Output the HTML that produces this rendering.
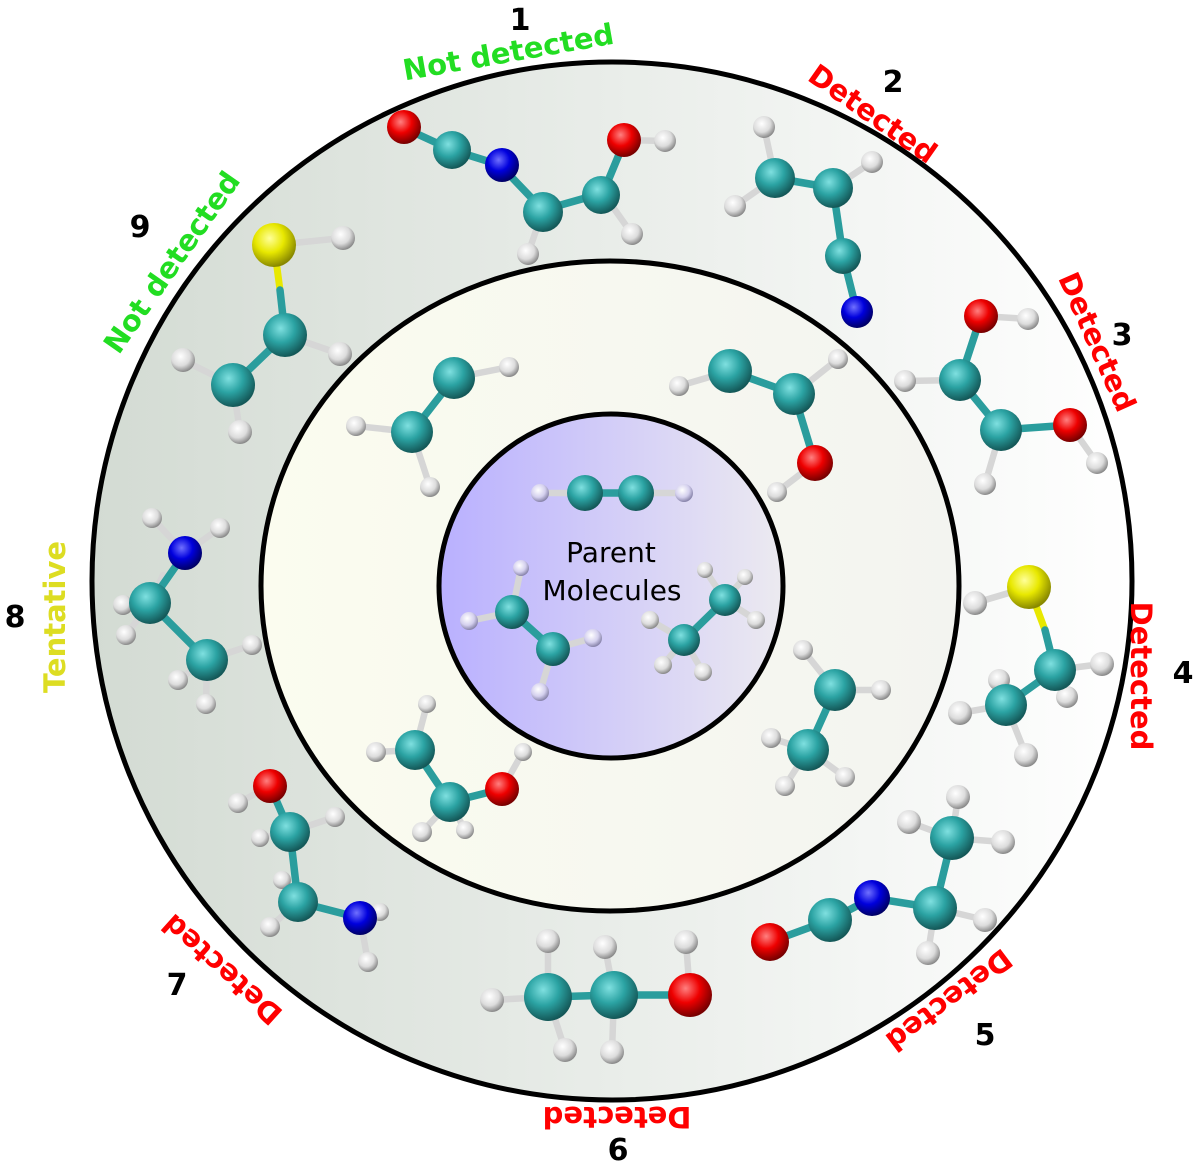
<!DOCTYPE html>
<html><head><meta charset="utf-8"><style>
html,body{margin:0;padding:0;background:#fff}
svg{display:block}
.lb{font-family:"DejaVu Sans","Liberation Sans",sans-serif;font-weight:bold;font-size:29px}
.num{font-family:"DejaVu Sans","Liberation Sans",sans-serif;font-weight:bold;font-size:30px;fill:#000}
.b{stroke:#2a9d9d;stroke-width:7.5;stroke-linecap:round}
.bh{stroke:#d6d6d6;stroke-width:6.5;stroke-linecap:round}
</style></head><body>
<svg width="1200" height="1166" viewBox="0 0 1200 1166" xmlns="http://www.w3.org/2000/svg">
<defs>
<linearGradient id="go" x1="0" x2="1"><stop offset="0" stop-color="#d3dbd3"/><stop offset="1" stop-color="#ffffff"/></linearGradient>
<linearGradient id="gm" x1="0" x2="1"><stop offset="0" stop-color="#fbfcef"/><stop offset="1" stop-color="#f3f4f0"/></linearGradient>
<linearGradient id="gi" x1="0" x2="1"><stop offset="0" stop-color="#b9b0ff"/><stop offset="1" stop-color="#eceaf0"/></linearGradient>
<radialGradient id="C" cx="0.4" cy="0.35" r="0.65"><stop offset="0" stop-color="#7fe0e0"/><stop offset="0.5" stop-color="#2ba3a3"/><stop offset="1" stop-color="#145858"/></radialGradient>
<radialGradient id="H" cx="0.4" cy="0.35" r="0.65"><stop offset="0" stop-color="#ffffff"/><stop offset="0.6" stop-color="#dcdcdc"/><stop offset="1" stop-color="#8a8a8a"/></radialGradient>
<radialGradient id="HL" cx="0.4" cy="0.35" r="0.65"><stop offset="0" stop-color="#ffffff"/><stop offset="0.6" stop-color="#d4d0ee"/><stop offset="1" stop-color="#8884aa"/></radialGradient>
<radialGradient id="O" cx="0.4" cy="0.35" r="0.65"><stop offset="0" stop-color="#ff8080"/><stop offset="0.5" stop-color="#ee0000"/><stop offset="1" stop-color="#770000"/></radialGradient>
<radialGradient id="N" cx="0.4" cy="0.35" r="0.65"><stop offset="0" stop-color="#7070ff"/><stop offset="0.5" stop-color="#0000dd"/><stop offset="1" stop-color="#000066"/></radialGradient>
<radialGradient id="S" cx="0.4" cy="0.35" r="0.65"><stop offset="0" stop-color="#ffff99"/><stop offset="0.5" stop-color="#e8e800"/><stop offset="1" stop-color="#888800"/></radialGradient>
</defs>
<ellipse cx="612" cy="581" rx="520" ry="519" fill="url(#go)" stroke="#000" stroke-width="5"/>
<ellipse cx="610" cy="586" rx="349" ry="325" fill="url(#gm)" stroke="#000" stroke-width="5"/>
<ellipse cx="611" cy="586" rx="172" ry="172" fill="url(#gi)" stroke="#000" stroke-width="5"/>

<text x="611" y="562" text-anchor="middle" font-family="DejaVu Sans, Liberation Sans, sans-serif" font-size="28" fill="#000">Parent</text>
<text x="612" y="600" text-anchor="middle" font-family="DejaVu Sans, Liberation Sans, sans-serif" font-size="28" fill="#000">Molecules</text>

<g>
<line class="bh" x1="540" y1="493" x2="684" y2="493"/>
<line class="b" x1="585" y1="493" x2="636" y2="493"/>
<circle cx="540" cy="493" r="9" fill="url(#HL)"/><circle cx="684" cy="493" r="9" fill="url(#HL)"/>
<circle cx="585" cy="493" r="18" fill="url(#C)"/><circle cx="636" cy="493" r="18" fill="url(#C)"/>
</g>
<g>
<line class="bh" x1="512" y1="612" x2="521" y2="568"/><line class="bh" x1="512" y1="612" x2="469" y2="621"/>
<line class="bh" x1="553" y1="649" x2="593" y2="638"/><line class="bh" x1="553" y1="649" x2="540" y2="692"/>
<line class="b" x1="512" y1="612" x2="553" y2="649"/>
<circle cx="521" cy="568" r="8" fill="url(#HL)"/><circle cx="469" cy="621" r="9" fill="url(#HL)"/><circle cx="593" cy="638" r="9" fill="url(#HL)"/><circle cx="540" cy="692" r="9" fill="url(#HL)"/>
<circle cx="512" cy="612" r="17" fill="url(#C)"/><circle cx="553" cy="649" r="17" fill="url(#C)"/>
</g>
<g>
<line class="bh" x1="725" y1="600" x2="705" y2="570"/><line class="bh" x1="725" y1="600" x2="745" y2="577"/><line class="bh" x1="725" y1="600" x2="756" y2="620"/>
<line class="bh" x1="684" y1="640" x2="650" y2="620"/><line class="bh" x1="684" y1="640" x2="663" y2="665"/><line class="bh" x1="684" y1="640" x2="703" y2="672"/>
<line class="b" x1="725" y1="600" x2="684" y2="640"/>
<circle cx="705" cy="570" r="8" fill="url(#H)"/><circle cx="745" cy="577" r="8" fill="url(#H)"/><circle cx="756" cy="620" r="9" fill="url(#H)"/>
<circle cx="650" cy="620" r="9" fill="url(#H)"/><circle cx="663" cy="665" r="9" fill="url(#H)"/><circle cx="703" cy="672" r="9" fill="url(#H)"/>
<circle cx="725" cy="600" r="16" fill="url(#C)"/><circle cx="684" cy="640" r="16" fill="url(#C)"/>
</g>

<g>
<line class="bh" x1="454" y1="378" x2="509" y2="367"/><line class="bh" x1="412" y1="432" x2="356" y2="426"/><line class="bh" x1="412" y1="432" x2="430" y2="487"/>
<line class="b" x1="454" y1="378" x2="412" y2="432"/>
<circle cx="509" cy="367" r="10" fill="url(#H)"/><circle cx="356" cy="426" r="10" fill="url(#H)"/><circle cx="430" cy="487" r="10" fill="url(#H)"/>
<circle cx="454" cy="378" r="21" fill="url(#C)"/><circle cx="412" cy="432" r="21" fill="url(#C)"/>
</g>
<g>
<line class="bh" x1="730" y1="371" x2="679" y2="386"/><line class="bh" x1="794" y1="394" x2="838" y2="359"/><line class="bh" x1="815" y1="463" x2="777" y2="492"/>
<line class="b" x1="730" y1="371" x2="794" y2="394"/><line class="b" x1="794" y1="394" x2="815" y2="463"/>
<circle cx="679" cy="386" r="10" fill="url(#H)"/><circle cx="838" cy="359" r="10" fill="url(#H)"/><circle cx="777" cy="492" r="10" fill="url(#H)"/>
<circle cx="730" cy="371" r="22" fill="url(#C)"/><circle cx="794" cy="394" r="21" fill="url(#C)"/><circle cx="815" cy="463" r="18" fill="url(#O)"/>
</g>
<g>
<line class="bh" x1="835" y1="690" x2="803" y2="650"/><line class="bh" x1="835" y1="690" x2="881" y2="690"/>
<line class="bh" x1="808" y1="750" x2="771" y2="738"/><line class="bh" x1="808" y1="750" x2="785" y2="786"/><line class="bh" x1="808" y1="750" x2="845" y2="777"/>
<line class="b" x1="835" y1="690" x2="808" y2="750"/>
<circle cx="803" cy="650" r="10" fill="url(#H)"/><circle cx="881" cy="690" r="10" fill="url(#H)"/><circle cx="771" cy="738" r="10" fill="url(#H)"/><circle cx="785" cy="786" r="10" fill="url(#H)"/><circle cx="845" cy="777" r="10" fill="url(#H)"/>
<circle cx="835" cy="690" r="21" fill="url(#C)"/><circle cx="808" cy="750" r="21" fill="url(#C)"/>
</g>
<g>
<line class="bh" x1="415" y1="750" x2="427" y2="704"/><line class="bh" x1="415" y1="750" x2="376" y2="752"/>
<line class="bh" x1="450" y1="802" x2="422" y2="832"/><line class="bh" x1="450" y1="802" x2="465" y2="830"/><line class="bh" x1="502" y1="789" x2="523" y2="752"/>
<line class="b" x1="415" y1="750" x2="450" y2="802"/><line class="b" x1="450" y1="802" x2="502" y2="789"/>
<circle cx="427" cy="704" r="9" fill="url(#H)"/><circle cx="376" cy="752" r="10" fill="url(#H)"/><circle cx="422" cy="832" r="10" fill="url(#H)"/><circle cx="465" cy="830" r="9" fill="url(#H)"/><circle cx="523" cy="752" r="9" fill="url(#H)"/>
<circle cx="415" cy="750" r="20" fill="url(#C)"/><circle cx="450" cy="802" r="20" fill="url(#C)"/><circle cx="502" cy="789" r="17" fill="url(#O)"/>
</g>

<g>
<line class="b" x1="402" y1="127" x2="452" y2="150"/><line class="b" x1="452" y1="150" x2="500" y2="165"/><line class="b" x1="500" y1="165" x2="543" y2="210"/>
<line class="b" x1="543" y1="210" x2="603" y2="193"/><line class="b" x1="603" y1="193" x2="625" y2="140"/>
<line class="bh" x1="625" y1="140" x2="665" y2="141"/><line class="bh" x1="543" y1="210" x2="528" y2="254"/><line class="bh" x1="603" y1="193" x2="632" y2="234"/>
<circle cx="665" cy="141" r="11" fill="url(#H)"/><circle cx="528" cy="254" r="11" fill="url(#H)"/><circle cx="632" cy="234" r="11" fill="url(#H)"/>
<circle cx="404" cy="127" r="17" fill="url(#O)"/><circle cx="452" cy="150" r="19" fill="url(#C)"/><circle cx="502" cy="165" r="17" fill="url(#N)"/>
<circle cx="543" cy="212" r="20" fill="url(#C)"/><circle cx="601" cy="195" r="19" fill="url(#C)"/><circle cx="624" cy="140" r="17" fill="url(#O)"/>
</g>
<g>
<line class="bh" x1="775" y1="178" x2="764" y2="127"/><line class="bh" x1="775" y1="178" x2="735" y2="206"/><line class="bh" x1="833" y1="188" x2="872" y2="162"/>
<line class="b" x1="775" y1="178" x2="833" y2="188"/><line class="b" x1="833" y1="188" x2="843" y2="256"/><line class="b" x1="843" y1="256" x2="857" y2="312"/>
<circle cx="764" cy="127" r="11" fill="url(#H)"/><circle cx="735" cy="206" r="11" fill="url(#H)"/><circle cx="872" cy="162" r="11" fill="url(#H)"/>
<circle cx="775" cy="178" r="20" fill="url(#C)"/><circle cx="833" cy="188" r="20" fill="url(#C)"/><circle cx="843" cy="256" r="18" fill="url(#C)"/><circle cx="857" cy="312" r="16" fill="url(#N)"/>
</g>
<g>
<line class="bh" x1="981" y1="316" x2="1028" y2="319"/><line class="bh" x1="960" y1="380" x2="905" y2="381"/><line class="bh" x1="1001" y1="430" x2="985" y2="484"/><line class="bh" x1="1070" y1="425" x2="1097" y2="463"/>
<line class="b" x1="981" y1="316" x2="960" y2="380"/><line class="b" x1="960" y1="380" x2="1001" y2="430"/><line class="b" x1="1001" y1="430" x2="1070" y2="425"/>
<circle cx="1028" cy="319" r="11" fill="url(#H)"/><circle cx="905" cy="381" r="11" fill="url(#H)"/><circle cx="985" cy="484" r="11" fill="url(#H)"/><circle cx="1097" cy="463" r="11" fill="url(#H)"/>
<circle cx="981" cy="316" r="17" fill="url(#O)"/><circle cx="960" cy="380" r="21" fill="url(#C)"/><circle cx="1001" cy="430" r="21" fill="url(#C)"/><circle cx="1070" cy="425" r="17" fill="url(#O)"/>
</g>
<g>
<line class="bh" x1="1029" y1="587" x2="975" y2="603"/><line class="bh" x1="1055" y1="670" x2="1102" y2="664"/><line class="bh" x1="1055" y1="670" x2="1067" y2="697"/>
<line class="bh" x1="1006" y1="705" x2="960" y2="713"/><line class="bh" x1="1006" y1="705" x2="1026" y2="755"/><line class="bh" x1="1006" y1="705" x2="999" y2="680"/>
<line x1="1029" y1="587" x2="1045" y2="630" stroke="#e8e800" stroke-width="7"/><line class="b" x1="1045" y1="630" x2="1055" y2="670"/><line class="b" x1="1055" y1="670" x2="1006" y2="705"/>
<circle cx="975" cy="603" r="12" fill="url(#H)"/><circle cx="999" cy="680" r="11" fill="url(#H)"/><circle cx="1067" cy="697" r="11" fill="url(#H)"/>
<circle cx="1102" cy="664" r="12" fill="url(#H)"/><circle cx="960" cy="713" r="12" fill="url(#H)"/><circle cx="1026" cy="755" r="12" fill="url(#H)"/>
<circle cx="1029" cy="587" r="22" fill="url(#S)"/><circle cx="1055" cy="670" r="21" fill="url(#C)"/><circle cx="1006" cy="705" r="21" fill="url(#C)"/>
</g>
<g>
<line class="bh" x1="952" y1="838" x2="958" y2="797"/><line class="bh" x1="952" y1="838" x2="909" y2="822"/><line class="bh" x1="952" y1="838" x2="1003" y2="842"/>
<line class="bh" x1="935" y1="908" x2="985" y2="920"/><line class="bh" x1="935" y1="908" x2="928" y2="953"/>
<line class="b" x1="770" y1="942" x2="830" y2="920"/><line class="b" x1="830" y1="920" x2="872" y2="898"/><line class="b" x1="872" y1="898" x2="935" y2="908"/><line class="b" x1="935" y1="908" x2="952" y2="838"/>
<circle cx="958" cy="797" r="12" fill="url(#H)"/><circle cx="909" cy="822" r="12" fill="url(#H)"/><circle cx="1003" cy="842" r="12" fill="url(#H)"/><circle cx="985" cy="920" r="12" fill="url(#H)"/><circle cx="928" cy="953" r="12" fill="url(#H)"/>
<circle cx="770" cy="942" r="19" fill="url(#O)"/><circle cx="830" cy="920" r="22" fill="url(#C)"/><circle cx="872" cy="898" r="18" fill="url(#N)"/><circle cx="935" cy="908" r="22" fill="url(#C)"/><circle cx="952" cy="838" r="22" fill="url(#C)"/>
</g>
<g>
<line class="bh" x1="548" y1="997" x2="492" y2="1000"/><line class="bh" x1="548" y1="997" x2="548" y2="941"/><line class="bh" x1="548" y1="997" x2="565" y2="1050"/>
<line class="bh" x1="614" y1="995" x2="605" y2="947"/><line class="bh" x1="614" y1="995" x2="612" y2="1052"/><line class="bh" x1="690" y1="995" x2="686" y2="942"/>
<line class="b" x1="548" y1="997" x2="614" y2="995"/><line class="b" x1="614" y1="995" x2="690" y2="995"/>
<circle cx="492" cy="1000" r="12" fill="url(#H)"/><circle cx="548" cy="941" r="12" fill="url(#H)"/><circle cx="565" cy="1050" r="12" fill="url(#H)"/>
<circle cx="605" cy="947" r="12" fill="url(#H)"/><circle cx="612" cy="1052" r="12" fill="url(#H)"/><circle cx="686" cy="942" r="12" fill="url(#H)"/>
<circle cx="548" cy="997" r="24" fill="url(#C)"/><circle cx="614" cy="995" r="24" fill="url(#C)"/><circle cx="690" cy="995" r="22" fill="url(#O)"/>
</g>
<g>
<line class="bh" x1="270" y1="786" x2="238" y2="803"/><line class="bh" x1="290" y1="832" x2="335" y2="817"/><line class="bh" x1="290" y1="832" x2="260" y2="838"/>
<line class="bh" x1="298" y1="902" x2="270" y2="927"/><line class="bh" x1="298" y1="902" x2="282" y2="880"/><line class="bh" x1="360" y1="918" x2="368" y2="962"/><line class="bh" x1="360" y1="918" x2="380" y2="912"/>
<line class="b" x1="270" y1="786" x2="290" y2="832"/><line class="b" x1="290" y1="832" x2="298" y2="902"/><line class="b" x1="298" y1="902" x2="360" y2="918"/>
<circle cx="238" cy="803" r="10" fill="url(#H)"/><circle cx="335" cy="817" r="10" fill="url(#H)"/><circle cx="260" cy="838" r="9" fill="url(#H)"/><circle cx="270" cy="927" r="10" fill="url(#H)"/><circle cx="282" cy="880" r="9" fill="url(#H)"/><circle cx="368" cy="962" r="10" fill="url(#H)"/><circle cx="380" cy="912" r="9" fill="url(#H)"/>
<circle cx="270" cy="786" r="17" fill="url(#O)"/><circle cx="290" cy="832" r="20" fill="url(#C)"/><circle cx="298" cy="902" r="20" fill="url(#C)"/><circle cx="360" cy="918" r="17" fill="url(#N)"/>
</g>
<g>
<line class="bh" x1="185" y1="553" x2="152" y2="518"/><line class="bh" x1="185" y1="553" x2="220" y2="528"/>
<line class="bh" x1="150" y1="603" x2="123" y2="605"/><line class="bh" x1="150" y1="603" x2="126" y2="635"/><line class="bh" x1="150" y1="603" x2="163" y2="575"/>
<line class="bh" x1="207" y1="660" x2="252" y2="645"/><line class="bh" x1="207" y1="660" x2="206" y2="704"/><line class="bh" x1="207" y1="660" x2="178" y2="680"/>
<line class="b" x1="185" y1="553" x2="150" y2="603"/><line class="b" x1="150" y1="603" x2="207" y2="660"/>
<circle cx="152" cy="518" r="10" fill="url(#H)"/><circle cx="220" cy="528" r="10" fill="url(#H)"/><circle cx="123" cy="605" r="10" fill="url(#H)"/><circle cx="126" cy="635" r="10" fill="url(#H)"/><circle cx="178" cy="680" r="10" fill="url(#H)"/><circle cx="252" cy="645" r="10" fill="url(#H)"/><circle cx="206" cy="704" r="10" fill="url(#H)"/>
<circle cx="185" cy="553" r="17" fill="url(#N)"/><circle cx="150" cy="603" r="21" fill="url(#C)"/><circle cx="207" cy="660" r="21" fill="url(#C)"/>
</g>
<g>
<line class="bh" x1="274" y1="245" x2="343" y2="238"/><line class="bh" x1="285" y1="335" x2="340" y2="354"/><line class="bh" x1="233" y1="385" x2="183" y2="360"/><line class="bh" x1="233" y1="385" x2="240" y2="432"/>
<line x1="274" y1="245" x2="280" y2="290" stroke="#e8e800" stroke-width="7"/><line class="b" x1="280" y1="290" x2="285" y2="335"/><line class="b" x1="285" y1="335" x2="233" y2="385"/>
<circle cx="343" cy="238" r="12" fill="url(#H)"/><circle cx="340" cy="354" r="12" fill="url(#H)"/><circle cx="183" cy="360" r="12" fill="url(#H)"/><circle cx="240" cy="432" r="12" fill="url(#H)"/>
<circle cx="274" cy="245" r="22" fill="url(#S)"/><circle cx="285" cy="335" r="22" fill="url(#C)"/><circle cx="233" cy="385" r="22" fill="url(#C)"/>
</g>

<text class="num" x="520" y="30" text-anchor="middle">1</text>
<text class="lb" fill="#22dd22" text-anchor="middle" transform="translate(510,62) rotate(-10)">Not detected</text>
<text class="num" x="893" y="92" text-anchor="middle">2</text>
<text class="lb" fill="#ff0000" text-anchor="middle" transform="translate(867,122) rotate(35)">Detected</text>
<text class="num" x="1122" y="345" text-anchor="middle">3</text>
<text class="lb" fill="#ff0000" text-anchor="middle" transform="translate(1088,346) rotate(66)">Detected</text>
<text class="num" x="1183" y="683" text-anchor="middle">4</text>
<text class="lb" fill="#ff0000" text-anchor="middle" transform="translate(1131,676) rotate(90)">Detected</text>
<text class="num" x="985" y="1045" text-anchor="middle">5</text>
<text class="lb" fill="#ff0000" text-anchor="middle" transform="translate(943,992) rotate(143)">Detected</text>
<text class="num" x="618" y="1160" text-anchor="middle">6</text>
<text class="lb" fill="#ff0000" text-anchor="middle" transform="translate(617,1107) rotate(180)">Detected</text>
<text class="num" x="177" y="995" text-anchor="middle">7</text>
<text class="lb" fill="#ff0000" text-anchor="middle" transform="translate(229,962) rotate(222)">Detected</text>
<text class="num" x="15" y="627" text-anchor="middle">8</text>
<text class="lb" fill="#dddd22" text-anchor="middle" transform="translate(65,617) rotate(-90)">Tentative</text>
<text class="num" x="140" y="237" text-anchor="middle">9</text>
<text class="lb" fill="#22dd22" text-anchor="middle" transform="translate(180,268) rotate(-55)">Not detected</text>
</svg>
</body></html>
